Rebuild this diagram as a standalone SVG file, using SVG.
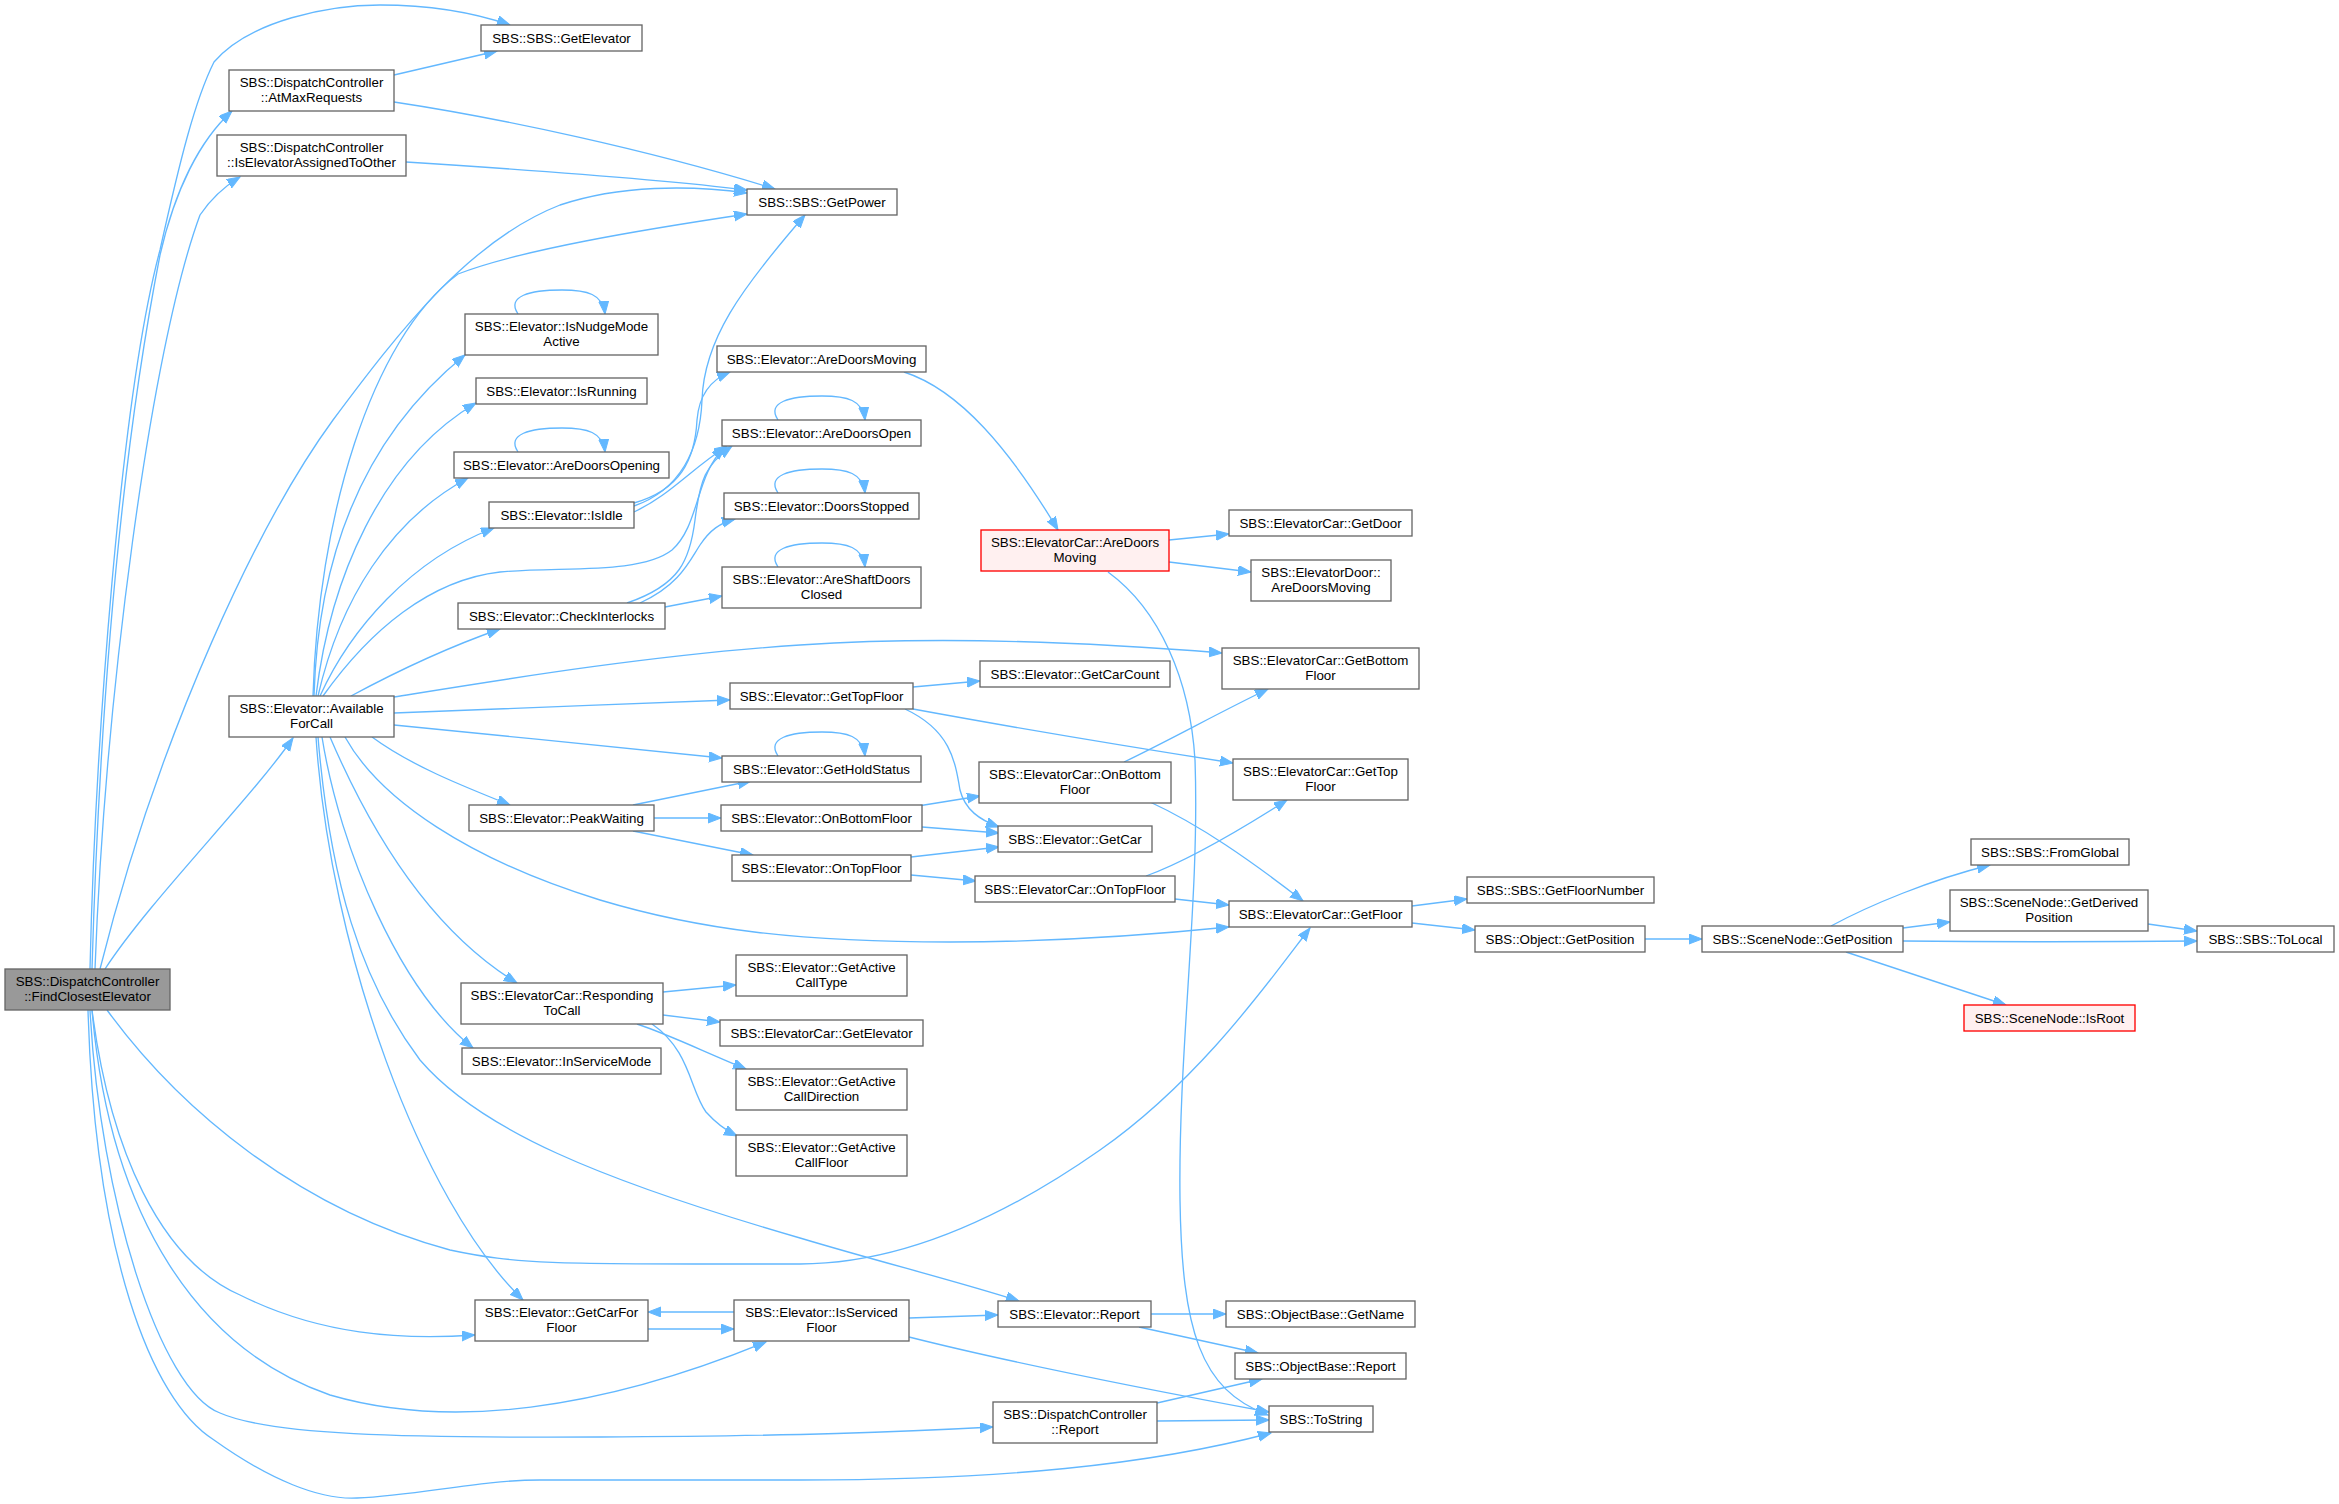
<svg xmlns="http://www.w3.org/2000/svg" width="2339" height="1504" viewBox="0 0 2339 1504">
<style>
.n rect{fill:#ffffff;stroke:#666666;stroke-width:1.33}
.g rect{fill:#999999;stroke:#666666;stroke-width:1.33}
.r rect{fill:#fff0f0;stroke:#ff0000;stroke-width:1.33}
text{font-family:"Liberation Sans",Arial,Helvetica,sans-serif;font-size:13.33px;text-anchor:middle;fill:#000000}
#edges path{fill:none;stroke:#63b8ff;stroke-width:1.33;marker-end:url(#a)}
</style>
<defs>
<marker id="a" markerUnits="userSpaceOnUse" markerWidth="14" markerHeight="11" refX="13" refY="5" orient="auto">
<path d="M0,0 L13,5 L0,10 z" fill="#63b8ff" stroke="#63b8ff" stroke-width="1"/>
</marker>
</defs>
<rect x="0" y="0" width="2339" height="1504" fill="#ffffff"/>
<g id="edges">
<!-- FindClosestElevator -->
<path d="M90,969 C95,750 120,400 160,250 C180,160 195,100 214,62 C250,20 330,5 380,5 C430,5 475,13 510,25"/>
<path d="M92,969 C100,700 122,450 160,255 C175,190 200,140 232,111"/>
<path d="M95,969 C105,700 150,350 200,215 C210,200 222,188 240,177"/>
<path d="M100,969 C160,730 260,520 333,420 C400,330 470,240 560,205 C620,185 690,185 747,193"/>
<path d="M105,969 C150,900 250,800 293,738"/>
<path d="M107,1010 C180,1110 300,1210 450,1250 C520,1265 560,1264 800,1264 C900,1264 1000,1220 1100,1150 C1200,1080 1270,980 1310,928"/>
<path d="M92,1010 C110,1150 160,1260 240,1295 C320,1335 400,1340 475,1335"/>
<path d="M92,1010 C110,1220 200,1350 330,1395 C450,1430 600,1410 766,1342"/>
<path d="M90,1010 C100,1200 160,1390 220,1413 C270,1435 400,1438 600,1437 C800,1436 900,1432 993,1427"/>
<path d="M88,1010 C95,1250 150,1400 214,1440 C270,1480 320,1500 357,1498 C420,1495 480,1480 540,1480 L800,1480 C1000,1480 1150,1465 1271,1433"/>
<!-- AtMaxRequests / IsElevatorAssignedToOther -->
<path d="M394,75 L497,51"/>
<path d="M394,102 C500,118 650,150 775,189"/>
<path d="M406,162 C500,168 650,178 747,190"/>
<!-- AvailableForCall -->
<path d="M313,696 C318,520 370,340 458,274 C520,250 640,230 747,214"/>
<path d="M314,696 C318,560 360,440 465,355"/>
<path d="M316,696 C330,580 380,460 476,403"/>
<path d="M318,696 C340,600 390,520 468,478"/>
<path d="M320,696 C350,630 410,560 494,528"/>
<path d="M323,696 C370,630 430,580 500,572 C560,566 640,575 672,550 C700,525 695,475 725,447"/>
<path d="M351,696 C390,675 440,650 500,629"/>
<path d="M394,697 C500,680 650,655 800,645 C950,635 1100,643 1222,653"/>
<path d="M394,713 C500,709 620,704 730,700"/>
<path d="M394,725 C500,735 620,748 722,758"/>
<path d="M372,737 C410,765 460,785 510,805"/>
<path d="M345,737 C380,800 470,860 600,900 C700,930 800,942 950,942 C1050,942 1150,935 1229,927"/>
<path d="M330,737 C370,830 430,930 517,983"/>
<path d="M322,737 C340,850 400,990 473,1048"/>
<path d="M316,737 C330,950 420,1200 523,1300"/>
<path d="M318,737 C330,880 360,980 420,1060 C480,1130 600,1180 800,1238 C880,1262 960,1282 1019,1301"/>
<!-- self loops -->
<path d="M518,314 C506,296 530,290 562,290 C587,290 603,294 605,314"/>
<path d="M518,452 C506,434 530,428 562,428 C587,428 603,432 605,452"/>
<path d="M778,420 C766,402 790,396 822,396 C847,396 863,400 865,420"/>
<path d="M778,493 C766,475 790,469 822,469 C847,469 863,473 865,493"/>
<path d="M778,567 C766,549 790,543 822,543 C847,543 863,547 865,567"/>
<path d="M778,756 C766,738 790,732 822,732 C847,732 863,736 865,756"/>
<!-- IsIdle -->
<path d="M634,506 C680,490 700,450 702,400 C704,340 740,290 805,215"/>
<path d="M634,503 C680,490 695,460 697,420 C699,395 710,380 730,372"/>
<path d="M634,512 C670,495 690,470 727,446"/>
<!-- CheckInterlocks -->
<path d="M627,603 C680,585 690,560 695,520 C700,480 705,465 732,446"/>
<path d="M640,603 C680,585 690,560 700,545 C710,530 720,523 735,519"/>
<path d="M665,607 L722,596"/>
<!-- AreDoorsMoving -->
<path d="M904,372 C960,390 1010,450 1058,530"/>
<path d="M1169,540 L1229,534"/>
<path d="M1169,562 L1251,572"/>
<path d="M1108,572 C1160,610 1190,680 1195,760 C1200,900 1178,1050 1180,1200 C1182,1330 1200,1390 1268,1415"/>
<!-- GetTopFloor -->
<path d="M913,687 L980,681"/>
<path d="M913,709 C1000,725 1150,750 1233,763"/>
<path d="M905,709 C950,730 955,760 960,790 C965,810 980,820 999,827"/>
<!-- PeakWaiting -->
<path d="M633,805 L751,781"/>
<path d="M654,818 L721,818"/>
<path d="M633,831 L753,855"/>
<!-- OnBottomFloor / OnTopFloor -->
<path d="M918,806 L980,796"/>
<path d="M922,827 L999,833"/>
<path d="M911,857 L999,847"/>
<path d="M911,875 L976,881"/>
<path d="M1124,762 C1170,740 1220,712 1268,689"/>
<path d="M1150,802 C1200,825 1250,860 1303,901"/>
<path d="M1146,876 C1190,860 1240,830 1287,800"/>
<path d="M1175,899 L1229,905"/>
<!-- GetFloor and position chain -->
<path d="M1412,906 L1467,899"/>
<path d="M1412,923 L1475,930"/>
<path d="M1645,939 L1702,939"/>
<path d="M1831,926 C1870,905 1930,880 1990,865"/>
<path d="M1903,928 L1950,922"/>
<path d="M1903,941 C2000,942 2100,942 2197,941"/>
<path d="M1846,952 L2006,1005"/>
<path d="M2148,924 L2197,931"/>
<!-- RespondingToCall -->
<path d="M663,992 L736,985"/>
<path d="M663,1015 L720,1022"/>
<path d="M637,1024 C670,1035 700,1050 746,1069"/>
<path d="M652,1024 C690,1050 690,1090 706,1112 C715,1122 725,1130 737,1136"/>
<!-- GetCarForFloor / IsServicedFloor -->
<path d="M648,1329 L734,1329"/>
<path d="M734,1312 L648,1312"/>
<path d="M909,1318 L998,1315"/>
<path d="M909,1337 C1000,1360 1150,1390 1269,1412"/>
<!-- Reports -->
<path d="M1151,1314 L1226,1314"/>
<path d="M1139,1327 L1258,1353"/>
<path d="M1157,1403 L1262,1379"/>
<path d="M1157,1421 L1269,1420"/>
</g>
<g id="n_fce" class="g"><rect x="5" y="969" width="165" height="41"/><text x="87.5" y="986">SBS::DispatchController</text><text x="87.5" y="1001.3">::FindClosestElevator</text></g>
<g id="n_atmax" class="n"><rect x="229" y="70" width="165" height="41"/><text x="311.5" y="87">SBS::DispatchController</text><text x="311.5" y="102.3">::AtMaxRequests</text></g>
<g id="n_iseao" class="n"><rect x="217" y="135" width="189" height="41"/><text x="311.5" y="152">SBS::DispatchController</text><text x="311.5" y="167.3">::IsElevatorAssignedToOther</text></g>
<g id="n_afc" class="n"><rect x="229" y="696" width="165" height="41"/><text x="311.5" y="713">SBS::Elevator::Available</text><text x="311.5" y="728.3">ForCall</text></g>
<g id="n_getelevator" class="n"><rect x="481" y="25" width="161" height="26"/><text x="561.5" y="42.8">SBS::SBS::GetElevator</text></g>
<g id="n_nudge" class="n"><rect x="465" y="314" width="193" height="41"/><text x="561.5" y="331">SBS::Elevator::IsNudgeMode</text><text x="561.5" y="346.3">Active</text></g>
<g id="n_running" class="n"><rect x="476" y="378" width="171" height="26"/><text x="561.5" y="395.8">SBS::Elevator::IsRunning</text></g>
<g id="n_opening" class="n"><rect x="454" y="452" width="215" height="26"/><text x="561.5" y="469.8">SBS::Elevator::AreDoorsOpening</text></g>
<g id="n_idle" class="n"><rect x="489" y="502" width="145" height="26"/><text x="561.5" y="519.8">SBS::Elevator::IsIdle</text></g>
<g id="n_interlocks" class="n"><rect x="458" y="603" width="207" height="26"/><text x="561.5" y="620.8">SBS::Elevator::CheckInterlocks</text></g>
<g id="n_peak" class="n"><rect x="469" y="805" width="185" height="26"/><text x="561.5" y="822.8">SBS::Elevator::PeakWaiting</text></g>
<g id="n_responding" class="n"><rect x="461" y="983" width="202" height="41"/><text x="562" y="1000">SBS::ElevatorCar::Responding</text><text x="562" y="1015.3">ToCall</text></g>
<g id="n_inservice" class="n"><rect x="462" y="1048" width="199" height="26"/><text x="561.5" y="1065.8">SBS::Elevator::InServiceMode</text></g>
<g id="n_getcarfor" class="n"><rect x="475" y="1300" width="173" height="41"/><text x="561.5" y="1317">SBS::Elevator::GetCarFor</text><text x="561.5" y="1332.3">Floor</text></g>
<g id="n_getpower" class="n"><rect x="747" y="189" width="150" height="26"/><text x="822" y="206.8">SBS::SBS::GetPower</text></g>
<g id="n_e_aredoorsmoving" class="n"><rect x="717" y="346" width="209" height="26"/><text x="821.5" y="363.8">SBS::Elevator::AreDoorsMoving</text></g>
<g id="n_aredoorsopen" class="n"><rect x="722" y="420" width="199" height="26"/><text x="821.5" y="437.8">SBS::Elevator::AreDoorsOpen</text></g>
<g id="n_doorsstopped" class="n"><rect x="724" y="493" width="195" height="26"/><text x="821.5" y="510.8">SBS::Elevator::DoorsStopped</text></g>
<g id="n_shaftdoors" class="n"><rect x="722" y="567" width="199" height="41"/><text x="821.5" y="584">SBS::Elevator::AreShaftDoors</text><text x="821.5" y="599.3">Closed</text></g>
<g id="n_gettopfloor" class="n"><rect x="730" y="683" width="183" height="26"/><text x="821.5" y="700.8">SBS::Elevator::GetTopFloor</text></g>
<g id="n_holdstatus" class="n"><rect x="722" y="756" width="199" height="26"/><text x="821.5" y="773.8">SBS::Elevator::GetHoldStatus</text></g>
<g id="n_onbottom" class="n"><rect x="721" y="805" width="201" height="26"/><text x="821.5" y="822.8">SBS::Elevator::OnBottomFloor</text></g>
<g id="n_ontop" class="n"><rect x="732" y="855" width="179" height="26"/><text x="821.5" y="872.8">SBS::Elevator::OnTopFloor</text></g>
<g id="n_calltype" class="n"><rect x="736" y="955" width="171" height="41"/><text x="821.5" y="972">SBS::Elevator::GetActive</text><text x="821.5" y="987.3">CallType</text></g>
<g id="n_ec_getelevator" class="n"><rect x="720" y="1020" width="203" height="26"/><text x="821.5" y="1037.8">SBS::ElevatorCar::GetElevator</text></g>
<g id="n_calldir" class="n"><rect x="736" y="1069" width="171" height="41"/><text x="821.5" y="1086">SBS::Elevator::GetActive</text><text x="821.5" y="1101.3">CallDirection</text></g>
<g id="n_callfloor" class="n"><rect x="736" y="1135" width="171" height="41"/><text x="821.5" y="1152">SBS::Elevator::GetActive</text><text x="821.5" y="1167.3">CallFloor</text></g>
<g id="n_isserviced" class="n"><rect x="734" y="1300" width="175" height="41"/><text x="821.5" y="1317">SBS::Elevator::IsServiced</text><text x="821.5" y="1332.3">Floor</text></g>
<g id="n_ec_aredoorsmoving" class="r"><rect x="981" y="530" width="188" height="41"/><text x="1075" y="547">SBS::ElevatorCar::AreDoors</text><text x="1075" y="562.3">Moving</text></g>
<g id="n_getcarcount" class="n"><rect x="980" y="661" width="190" height="26"/><text x="1075" y="678.8">SBS::Elevator::GetCarCount</text></g>
<g id="n_ec_onbottom" class="n"><rect x="979" y="762" width="192" height="41"/><text x="1075" y="779">SBS::ElevatorCar::OnBottom</text><text x="1075" y="794.3">Floor</text></g>
<g id="n_getcar" class="n"><rect x="998" y="826" width="154" height="26"/><text x="1075" y="843.8">SBS::Elevator::GetCar</text></g>
<g id="n_ec_ontop" class="n"><rect x="975" y="876" width="200" height="26"/><text x="1075" y="893.8">SBS::ElevatorCar::OnTopFloor</text></g>
<g id="n_e_report" class="n"><rect x="998" y="1301" width="153" height="26"/><text x="1074.5" y="1318.8">SBS::Elevator::Report</text></g>
<g id="n_dc_report" class="n"><rect x="993" y="1402" width="164" height="41"/><text x="1075" y="1419">SBS::DispatchController</text><text x="1075" y="1434.3">::Report</text></g>
<g id="n_getdoor" class="n"><rect x="1229" y="510" width="183" height="26"/><text x="1320.5" y="527.8">SBS::ElevatorCar::GetDoor</text></g>
<g id="n_ed_aredoorsmoving" class="n"><rect x="1251" y="560" width="140" height="41"/><text x="1321" y="577">SBS::ElevatorDoor::</text><text x="1321" y="592.3">AreDoorsMoving</text></g>
<g id="n_getbottomfloor" class="n"><rect x="1222" y="648" width="197" height="41"/><text x="1320.5" y="665">SBS::ElevatorCar::GetBottom</text><text x="1320.5" y="680.3">Floor</text></g>
<g id="n_ec_gettopfloor" class="n"><rect x="1233" y="759" width="175" height="41"/><text x="1320.5" y="776">SBS::ElevatorCar::GetTop</text><text x="1320.5" y="791.3">Floor</text></g>
<g id="n_getfloor" class="n"><rect x="1229" y="901" width="183" height="26"/><text x="1320.5" y="918.8">SBS::ElevatorCar::GetFloor</text></g>
<g id="n_getname" class="n"><rect x="1226" y="1301" width="189" height="26"/><text x="1320.5" y="1318.8">SBS::ObjectBase::GetName</text></g>
<g id="n_ob_report" class="n"><rect x="1235" y="1353" width="171" height="26"/><text x="1320.5" y="1370.8">SBS::ObjectBase::Report</text></g>
<g id="n_tostring" class="n"><rect x="1269" y="1406" width="104" height="26"/><text x="1321" y="1423.8">SBS::ToString</text></g>
<g id="n_floornumber" class="n"><rect x="1467" y="877" width="187" height="26"/><text x="1560.5" y="894.8">SBS::SBS::GetFloorNumber</text></g>
<g id="n_obj_getposition" class="n"><rect x="1475" y="926" width="170" height="26"/><text x="1560" y="943.8">SBS::Object::GetPosition</text></g>
<g id="n_sn_getposition" class="n"><rect x="1702" y="926" width="201" height="26"/><text x="1802.5" y="943.8">SBS::SceneNode::GetPosition</text></g>
<g id="n_fromglobal" class="n"><rect x="1971" y="839" width="158" height="26"/><text x="2050" y="856.8">SBS::SBS::FromGlobal</text></g>
<g id="n_derived" class="n"><rect x="1950" y="890" width="198" height="41"/><text x="2049" y="907">SBS::SceneNode::GetDerived</text><text x="2049" y="922.3">Position</text></g>
<g id="n_tolocal" class="n"><rect x="2197" y="926" width="137" height="26"/><text x="2265.5" y="943.8">SBS::SBS::ToLocal</text></g>
<g id="n_isroot" class="r"><rect x="1964" y="1005" width="171" height="26"/><text x="2049.5" y="1022.8">SBS::SceneNode::IsRoot</text></g>
</svg>
